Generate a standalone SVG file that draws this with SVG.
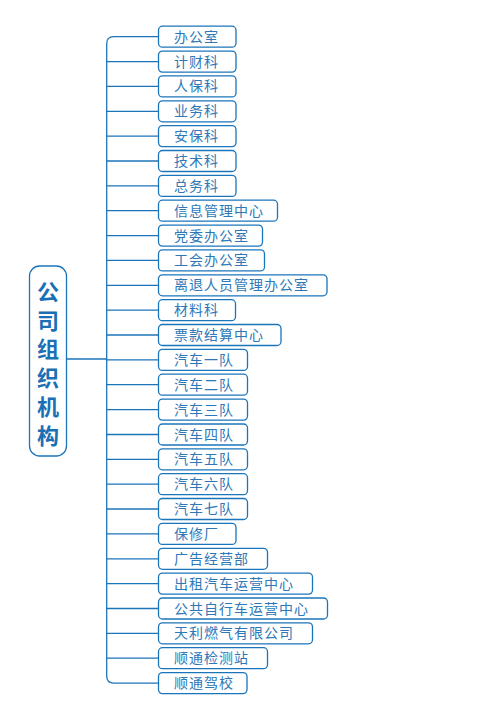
<svg xmlns="http://www.w3.org/2000/svg" width="500" height="722" viewBox="0 0 500 722">
<style>
.b{fill:#fff;stroke:#1b75bb;stroke-width:1.3}
.t{font-family:"Noto Sans CJK SC","Noto Sans",sans-serif;font-size:14px;fill:#2e78b8;letter-spacing:1px}
.m{font-family:"Noto Sans CJK SC","Noto Sans",sans-serif;font-size:22px;font-weight:bold;fill:#1a6fb5;writing-mode:vertical-rl;letter-spacing:6.7px}
.c{fill:none;stroke:#1b75bb;stroke-width:1.3}
</style>
<rect width="500" height="722" fill="#fff"/>
<g id="connectors">
<path class="c" d="M158.5,36.7H113.7Q106.7,36.7 106.7,43.7V676.1Q106.7,683.1 113.7,683.1H158.5"/>
<path class="c" d="M66.7,359H106.7M106.7,61.6H158.5M106.7,86.4H158.5M106.7,111.3H158.5M106.7,136.1H158.5M106.7,161H158.5M106.7,185.9H158.5M106.7,210.7H158.5M106.7,235.6H158.5M106.7,260.4H158.5M106.7,285.3H158.5M106.7,310.2H158.5M106.7,335H158.5M106.7,359.9H158.5M106.7,384.7H158.5M106.7,409.6H158.5M106.7,434.5H158.5M106.7,459.3H158.5M106.7,484.2H158.5M106.7,509H158.5M106.7,533.9H158.5M106.7,558.8H158.5M106.7,583.6H158.5M106.7,608.5H158.5M106.7,633.3H158.5M106.7,658.2H158.5"/>
</g>
<g id="root">
<rect class="b" x="29.5" y="266" width="37" height="190" rx="10"/>
<text class="m" x="48" y="280.7">公司组织机构</text>
</g>
<g id="n0"><rect class="b" x="158.5" y="26.2" width="77.5" height="21" rx="4"/><text class="t" x="174" y="41.7">办公室</text></g>
<g id="n1"><rect class="b" x="158.5" y="51.1" width="77.5" height="21" rx="4"/><text class="t" x="174" y="66.6">计财科</text></g>
<g id="n2"><rect class="b" x="158.5" y="75.9" width="77.5" height="21" rx="4"/><text class="t" x="174" y="91.4">人保科</text></g>
<g id="n3"><rect class="b" x="158.5" y="100.8" width="77.5" height="21" rx="4"/><text class="t" x="174" y="116.3">业务科</text></g>
<g id="n4"><rect class="b" x="158.5" y="125.6" width="77.5" height="21" rx="4"/><text class="t" x="174" y="141.1">安保科</text></g>
<g id="n5"><rect class="b" x="158.5" y="150.5" width="77.5" height="21" rx="4"/><text class="t" x="174" y="166">技术科</text></g>
<g id="n6"><rect class="b" x="158.5" y="175.4" width="77.5" height="21" rx="4"/><text class="t" x="174" y="190.9">总务科</text></g>
<g id="n7"><rect class="b" x="158.5" y="200.2" width="119" height="21" rx="4"/><text class="t" x="174" y="215.7">信息管理中心</text></g>
<g id="n8"><rect class="b" x="158.5" y="225.1" width="104" height="21" rx="4"/><text class="t" x="174" y="240.6">党委办公室</text></g>
<g id="n9"><rect class="b" x="158.5" y="249.9" width="106" height="21" rx="4"/><text class="t" x="174" y="265.4">工会办公室</text></g>
<g id="n10"><rect class="b" x="158.5" y="274.8" width="168.5" height="21" rx="4"/><text class="t" x="174" y="290.3">离退人员管理办公室</text></g>
<g id="n11"><rect class="b" x="158.5" y="299.7" width="77" height="21" rx="4"/><text class="t" x="174" y="315.2">材料科</text></g>
<g id="n12"><rect class="b" x="158.5" y="324.5" width="122.5" height="21" rx="4"/><text class="t" x="174" y="340">票款结算中心</text></g>
<g id="n13"><rect class="b" x="158.5" y="349.4" width="89" height="21" rx="4"/><text class="t" x="174" y="364.9">汽车一队</text></g>
<g id="n14"><rect class="b" x="158.5" y="374.2" width="89" height="21" rx="4"/><text class="t" x="174" y="389.7">汽车二队</text></g>
<g id="n15"><rect class="b" x="158.5" y="399.1" width="89" height="21" rx="4"/><text class="t" x="174" y="414.6">汽车三队</text></g>
<g id="n16"><rect class="b" x="158.5" y="424" width="89" height="21" rx="4"/><text class="t" x="174" y="439.5">汽车四队</text></g>
<g id="n17"><rect class="b" x="158.5" y="448.8" width="89" height="21" rx="4"/><text class="t" x="174" y="464.3">汽车五队</text></g>
<g id="n18"><rect class="b" x="158.5" y="473.7" width="89" height="21" rx="4"/><text class="t" x="174" y="489.2">汽车六队</text></g>
<g id="n19"><rect class="b" x="158.5" y="498.5" width="89" height="21" rx="4"/><text class="t" x="174" y="514">汽车七队</text></g>
<g id="n20"><rect class="b" x="158.5" y="523.4" width="77.5" height="21" rx="4"/><text class="t" x="174" y="538.9">保修厂</text></g>
<g id="n21"><rect class="b" x="158.5" y="548.3" width="109" height="21" rx="4"/><text class="t" x="174" y="563.8">广告经营部</text></g>
<g id="n22"><rect class="b" x="158.5" y="573.1" width="154" height="21" rx="4"/><text class="t" x="174" y="588.6">出租汽车运营中心</text></g>
<g id="n23"><rect class="b" x="158.5" y="598" width="169" height="21" rx="4"/><text class="t" x="174" y="613.5">公共自行车运营中心</text></g>
<g id="n24"><rect class="b" x="158.5" y="622.8" width="154" height="21" rx="4"/><text class="t" x="174" y="638.3">天利燃气有限公司</text></g>
<g id="n25"><rect class="b" x="158.5" y="647.7" width="109" height="21" rx="4"/><text class="t" x="174" y="663.2">顺通检测站</text></g>
<g id="n26"><rect class="b" x="158.5" y="672.6" width="88.5" height="21" rx="4"/><text class="t" x="174" y="688.1">顺通驾校</text></g>
</svg>
